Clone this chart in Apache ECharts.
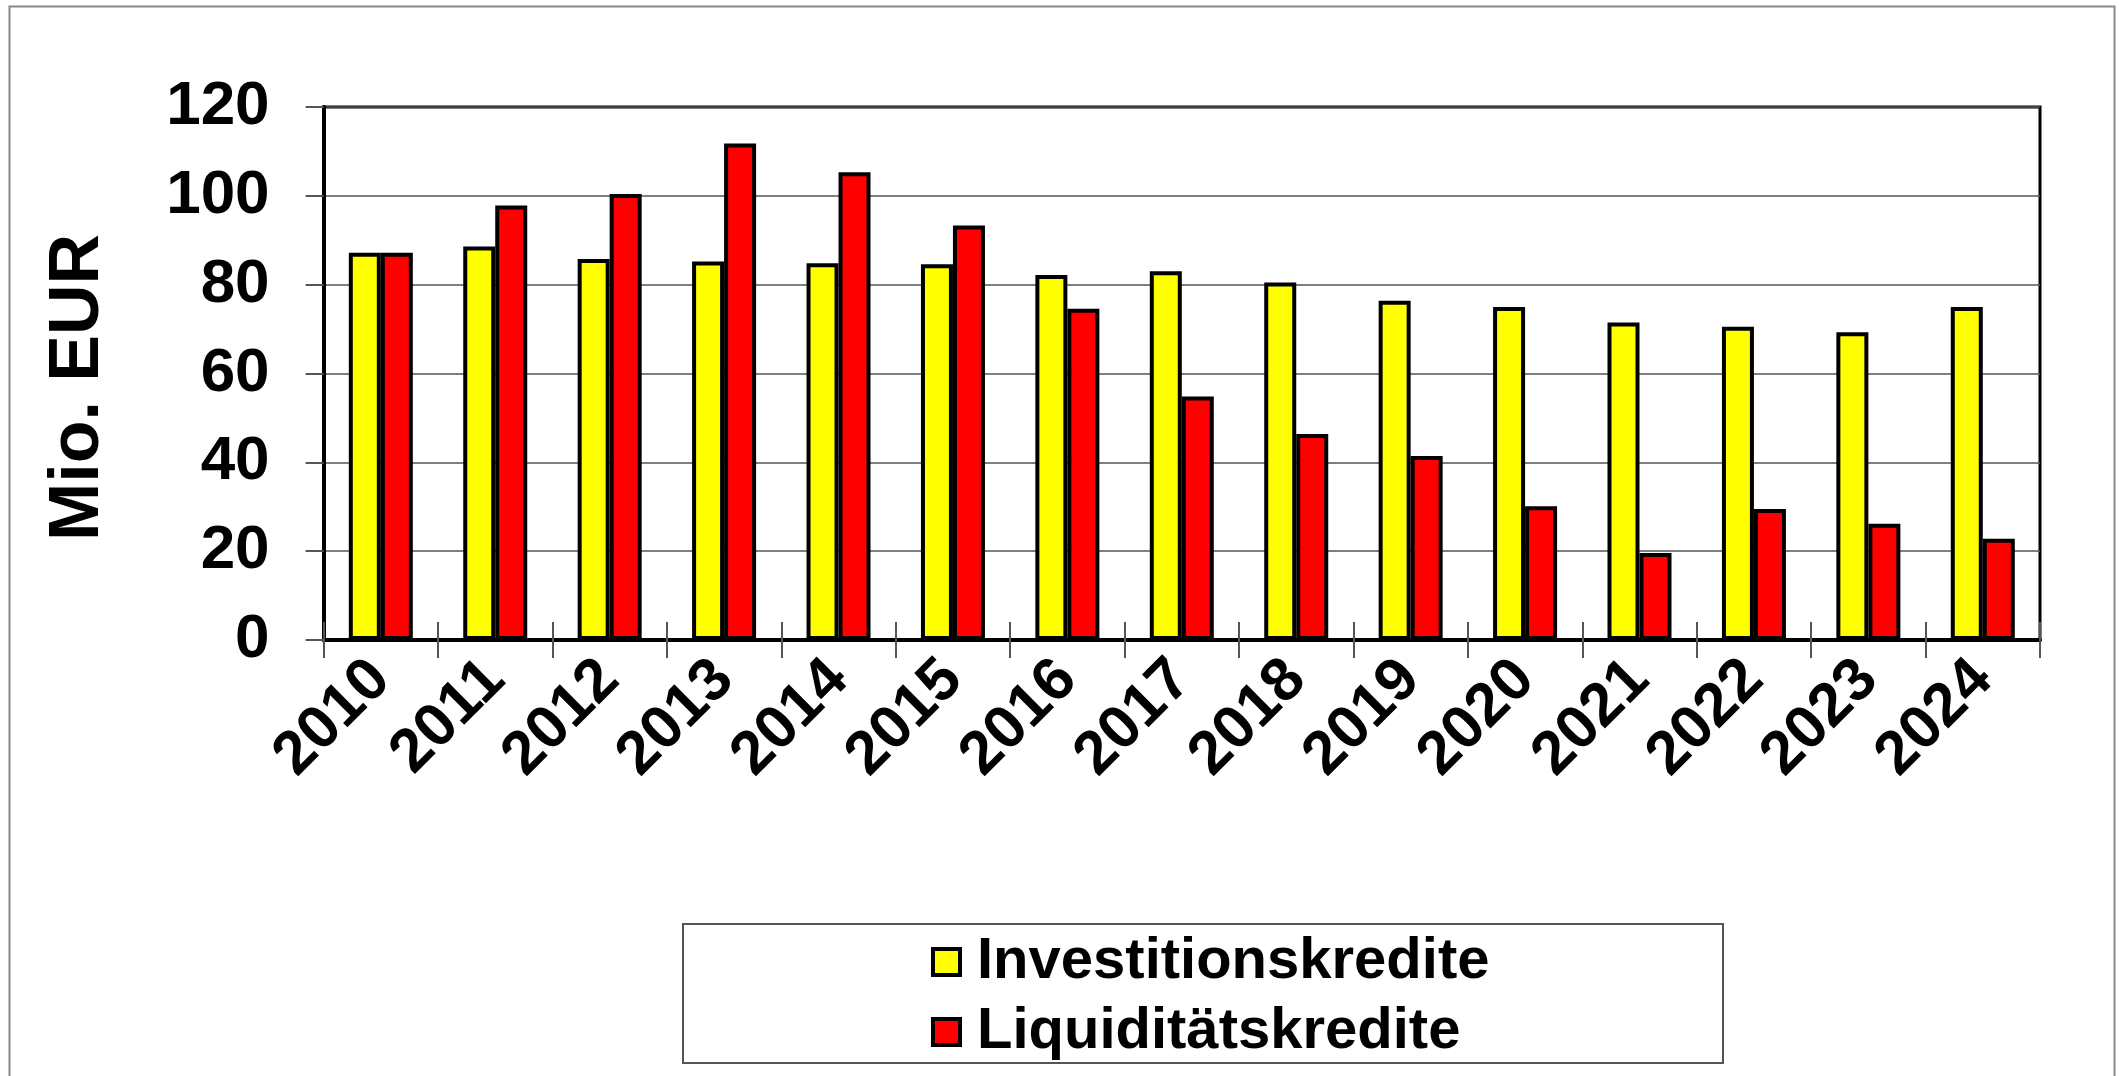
<!DOCTYPE html>
<html><head><meta charset="utf-8">
<script src="https://cdn.jsdelivr.net/npm/echarts@6/dist/echarts.min.js"></script>
<style>html,body{margin:0;padding:0;background:#fff;}#c{width:2119px;height:1076px;}</style>
</head><body><div id="c"></div>
<script>
const years = ['2010','2011','2012','2013','2014','2015','2016','2017','2018','2019','2020','2021','2022','2023','2024'];
const investitionskredite = [87.2, 88.6, 85.8, 85.2, 84.8, 84.6, 82.2, 83.0, 80.5, 76.4, 75.0, 71.5, 70.5, 69.3, 75.0];
const liquiditaetskredite = [87.2, 97.8, 100.4, 111.8, 105.3, 93.3, 74.6, 54.8, 46.4, 41.4, 30.1, 19.6, 29.5, 26.2, 22.8];
const yTicks = [0, 20, 40, 60, 80, 100, 120];

const FONT = '"Liberation Sans", Arial, sans-serif';
const chart = echarts.init(document.getElementById('c'), null, {renderer: 'canvas'});
chart.setOption({
  animation: false,
  backgroundColor: '#fff',
  textStyle: {fontFamily: FONT},
  graphic: [
    {type: 'rect', left: 7, top: 4, shape: {width: 2105, height: 1100}, style: {fill: 'none', stroke: '#888', lineWidth: 2}, z: -1},
    {type: 'rect', left: 682, top: 923, shape: {width: 1040, height: 139}, style: {fill: '#fff', stroke: '#555', lineWidth: 2}, z: 0}
  ],
  grid: {left: 323.6, right: 79, top: 107, bottom: 436, show: true, borderColor: '#000', borderWidth: 3, backgroundColor: 'transparent'},
  legend: {
    orient: 'vertical', left: 926, top: 927, itemWidth: 27, itemHeight: 26, itemGap: 10, z: 5, icon: 'rect',
    itemStyle: {borderColor: '#000', borderWidth: 4},
    textStyle: {fontFamily: FONT, fontWeight: 'bold', fontSize: 58, lineHeight: 60, color: '#000', padding: [0, 0, 0, 12]},
    data: ['Investitionskredite', 'Liquiditätskredite']
  },
  xAxis: [{
    type: 'category', data: years, position: 'bottom',
    axisLine: {show: true, lineStyle: {color: '#000', width: 4}},
    axisTick: {show: true, length: 18, lineStyle: {color: '#555', width: 2}},
    axisLabel: {rotate: 45, margin: 30, fontFamily: FONT, fontWeight: 'bold', fontSize: 61, color: '#000'}
  }, {
    type: 'category', data: years, position: 'bottom',
    axisLine: {show: false},
    axisTick: {show: true, inside: true, length: 18, lineStyle: {color: '#555', width: 2}},
    axisLabel: {show: false}
  }],
  yAxis: {
    type: 'value', min: yTicks[0], max: yTicks[yTicks.length - 1], interval: 20,
    name: 'Mio. EUR', nameLocation: 'middle', nameRotate: 90, nameGap: 210,
    nameTextStyle: {fontFamily: FONT, fontWeight: 'bold', fontSize: 70, color: '#000', padding: [0, 28, 0, 0]},
    axisLine: {show: true, lineStyle: {color: '#000', width: 4}},
    axisTick: {show: true, length: 18, lineStyle: {color: '#555', width: 2}},
    axisLabel: {margin: 54, fontFamily: FONT, fontWeight: 'bold', fontSize: 62, color: '#000'},
    splitLine: {show: true, lineStyle: {color: '#555', width: 1.5}}
  },
  series: [{
    name: 'Investitionskredite', type: 'bar', data: investitionskredite, barWidth: 32, barGap: '0%',
    itemStyle: {color: '#FFFF00', borderColor: '#000', borderWidth: 4}
  }, {
    name: 'Liquiditätskredite', type: 'bar', data: liquiditaetskredite, barWidth: 32, barGap: '0%',
    itemStyle: {color: '#FF0000', borderColor: '#000', borderWidth: 4}
  }]
});
</script></body></html>
